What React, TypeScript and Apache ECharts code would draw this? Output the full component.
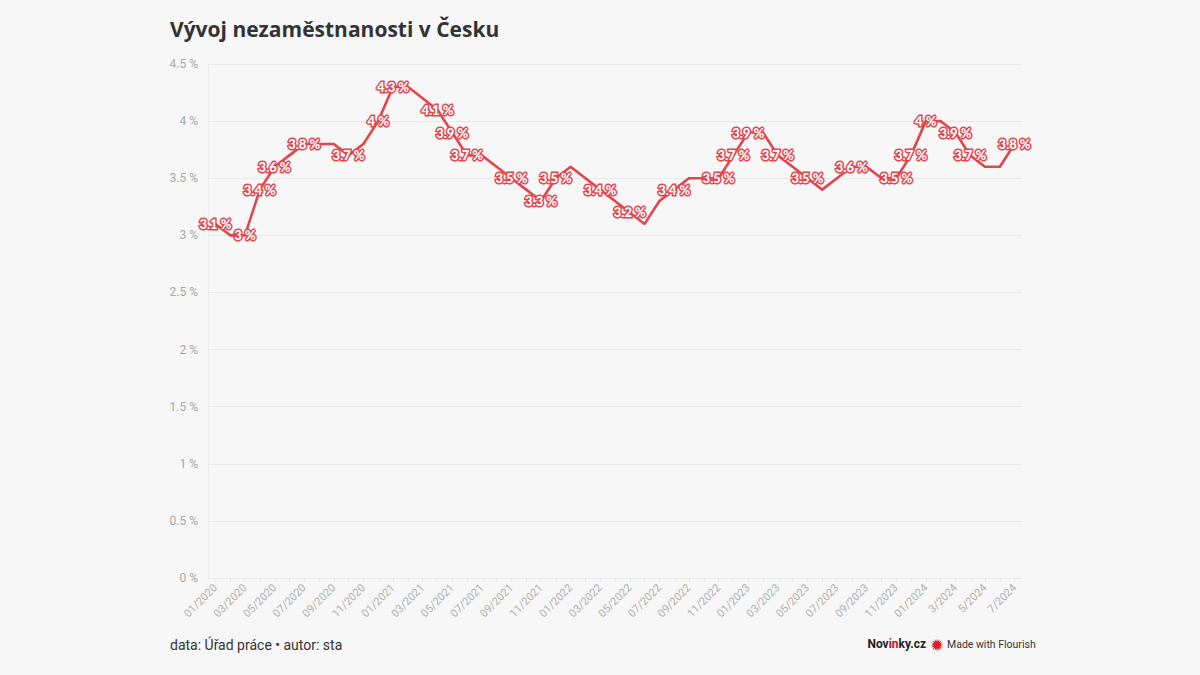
import React, { useEffect, useRef } from "react";
import * as echarts from "echarts";

const months: string[] = [
  "01/2020","02/2020","03/2020","04/2020","05/2020","06/2020","07/2020","08/2020","09/2020","10/2020","11/2020","12/2020",
  "01/2021","02/2021","03/2021","04/2021","05/2021","06/2021","07/2021","08/2021","09/2021","10/2021","11/2021","12/2021",
  "01/2022","02/2022","03/2022","04/2022","05/2022","06/2022","07/2022","08/2022","09/2022","10/2022","11/2022","12/2022",
  "01/2023","02/2023","03/2023","04/2023","05/2023","06/2023","07/2023","08/2023","09/2023","10/2023","11/2023","12/2023",
  "01/2024","2/2024","3/2024","4/2024","5/2024","6/2024","7/2024",
];

const unemployment: number[] = [
  3.1, 3.0, 3.0, 3.4, 3.6, 3.7, 3.8, 3.8, 3.8, 3.7, 3.8, 4.0,
  4.3, 4.3, 4.2, 4.1, 3.9, 3.7, 3.7, 3.6, 3.5, 3.4, 3.3, 3.5,
  3.6, 3.5, 3.4, 3.3, 3.2, 3.1, 3.3, 3.4, 3.5, 3.5, 3.5, 3.7,
  3.9, 3.9, 3.7, 3.6, 3.5, 3.4, 3.5, 3.6, 3.6, 3.5, 3.5, 3.7,
  4.0, 4.0, 3.9, 3.7, 3.6, 3.6, 3.8,
];

// indices of points that carry a value label
const labelledPoints: number[] = [
  0, 2, 3, 4, 6, 9, 11, 12, 15, 16, 17, 20, 22, 23, 26, 28, 31, 34, 35, 36, 38, 40, 43, 46, 47, 48, 50, 51, 54,
];

const title = "Vývoj nezaměstnanosti v Česku";
const source = "data: Úřad práce • autor: sta";

const RED = "#e3454d";
const fmt = (v: number) => `${String(v)} %`;

export default function App() {
  const ref = useRef<HTMLDivElement>(null);
  useEffect(() => {
    if (!ref.current) return;
    const chart = echarts.init(ref.current, undefined, { renderer: "svg" });

    // decorative Flourish burst icon
    const cx = 937, cy = 645;
    const burst: number[][] = [];
    for (let k = 0; k < 32; k++) {
      const r = k % 2 === 0 ? 6.5 : 3.5;
      const a = (k / 32) * Math.PI * 2;
      burst.push([cx + r * Math.cos(a), cy + r * Math.sin(a)]);
    }

    chart.setOption({
      animation: false,
      backgroundColor: "#f7f7f7",
      textStyle: { fontFamily: "Roboto, 'Noto Sans', sans-serif" },
      grid: { left: 208, right: 178, top: 64, bottom: 97, containLabel: false },
      xAxis: {
        type: "category",
        data: months,
        boundaryGap: true,
        axisLine: { show: false },
        axisTick: { show: true, alignWithLabel: true, interval: 0, length: 4, lineStyle: { color: "#e6e6e6" } },
        axisLabel: {
          interval: 1,
          rotate: 45,
          color: "#b0b0b0",
          fontSize: 11,
          margin: 8,
          fontFamily: "Roboto, sans-serif",
        },
        splitLine: { show: false },
      },
      yAxis: {
        type: "value",
        min: 0,
        max: 4.5,
        interval: 0.5,
        axisLine: { show: true, lineStyle: { color: "#ebebeb" } },
        axisTick: { show: false },
        axisLabel: { color: "#a8a8a8", fontSize: 12, margin: 10, formatter: (v: number) => fmt(v) },
        splitLine: { lineStyle: { color: "#e9e9e9", width: 1 } },
      },
      series: [
        {
          type: "line",
          data: unemployment.map((v, i) => ({
            value: v,
            label: { show: labelledPoints.includes(i) },
          })),
          symbol: "circle",
          symbolSize: 2,
          showSymbol: true,
          itemStyle: { color: RED },
          lineStyle: { color: RED, width: 2.6 },
          label: {
            show: false,
            position: "inside",
            formatter: (p: any) => fmt(p.value),
            color: "#ffffff",
            fontSize: 13,
            fontWeight: 900,
            fontFamily: "Lato, Roboto, sans-serif",
            textBorderColor: RED,
            textBorderWidth: 3,
          },
          z: 3,
        },
      ],
      graphic: [
        {
          type: "text",
          left: 170,
          top: 18,
          style: { text: title, fill: "#333333", fontSize: 21, fontWeight: "bold", fontFamily: "'Open Sans', sans-serif" },
        },
        {
          type: "text",
          left: 170,
          top: 638,
          style: { text: source, fill: "#333333", fontSize: 14, fontFamily: "Roboto, sans-serif" },
        },
        {
          type: "text",
          right: 1200 - 926,
          top: 638,
          style: {
            text: "{a|Nov}{b|in}{a|ky.cz}",
            rich: {
              a: { fill: "#222222", fontSize: 12, fontWeight: "bold", fontFamily: "Roboto, sans-serif" },
              b: { fill: "#c8102e", fontSize: 12, fontWeight: "bold", fontFamily: "Roboto, sans-serif" },
            },
          },
        },
        {
          type: "polygon",
          shape: { points: burst },
          style: { fill: "#d8202c" },
        },
        {
          type: "text",
          left: 947,
          top: 639,
          style: { text: "Made with Flourish", fill: "#333333", fontSize: 10.5, fontFamily: "Roboto, sans-serif" },
        },
      ],
    });
    return () => chart.dispose();
  }, []);
  return <div ref={ref} style={{ position: "absolute", left: 0, top: 0, width: 1200, height: 675 }} />;
}
